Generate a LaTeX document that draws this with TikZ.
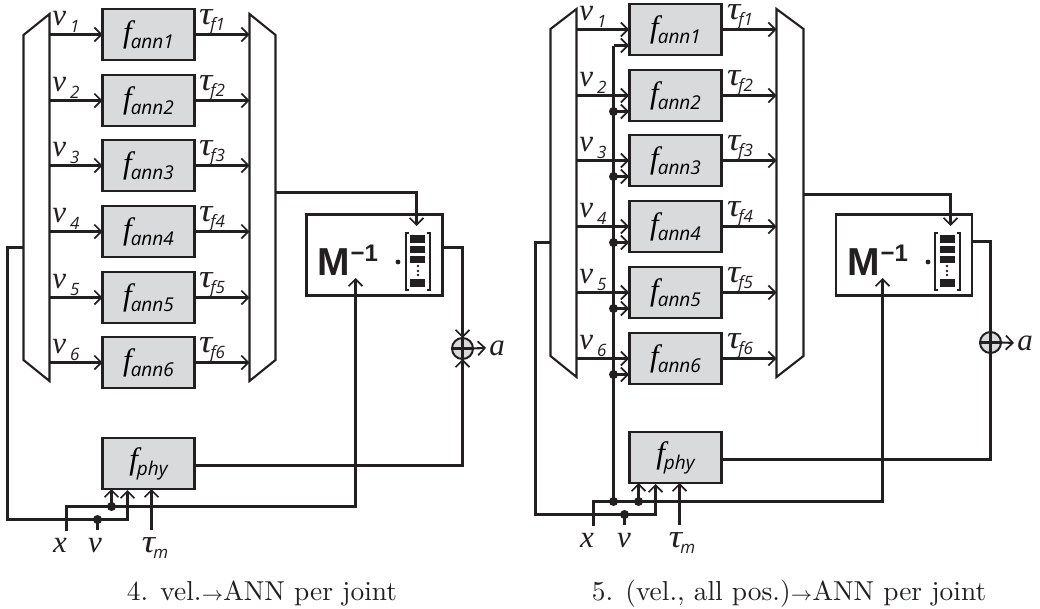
\documentclass[tikz,border=0pt]{standalone}
\usepackage{fontspec}
\usetikzlibrary{positioning}
\usetikzlibrary{arrows.meta}
\newfontfamily\subfont{Open Sans}
\newfontfamily\boldfont{Liberation Sans}
\newfontfamily\symfont{Liberation Serif}
\definecolor{ink}{HTML}{231F20}
\definecolor{boxgray}{HTML}{D9DADB}
\newcommand{\sym}[1]{{\symfont\itshape #1}}
\newcommand{\subtxt}[1]{\raisebox{-7pt}{\kern1pt\subfont\itshape\fontsize{17}{17}\selectfont #1}}
\newcommand{\annsub}[1]{\sym{f}\kern-1pt\raisebox{-6pt}{\subfont\itshape\fontsize{19}{19}\selectfont #1}}
\newcommand{\tausub}[1]{\scalebox{1.2}[1.05]{\sym{τ}}\kern-2pt\raisebox{-6pt}{\subfont\itshape\fontsize{17}{17}\selectfont #1}}
\newcommand{\minv}{{\boldfont\bfseries\fontsize{39}{39}\selectfont M\raisebox{14pt}{\fontsize{24}{24}\selectfont\kern1pt\char"2212 1}}}
\tikzset{
	annbox/.style = {draw=ink, fill=boxgray, line width=2.6pt, minimum width=92pt, minimum height=51pt, inner sep=0pt, outer sep=0pt, font=\fontsize{31}{32}\selectfont},
	massbox/.style = {draw=ink, line width=2.6pt, minimum width=136pt, minimum height=81pt, outer sep=0pt},
	muxshape/.style = {draw=ink, line width=2.1pt, fill=white},
	wire/.style = {draw=ink, line width=2.1pt},
	sig/.style = {wire, -{Straight Barb[length=7pt,width=14pt,line width=1.7pt]}},
	jdot/.style = {circle, fill=ink, inner sep=0pt, minimum size=9pt},
	sumnode/.style = {circle, draw=ink, fill=boxgray, line width=2pt, minimum size=21pt, inner sep=0pt, outer sep=0pt},
	lbl/.style = {anchor=base, inner sep=0pt, text=ink, font=\fontsize{31}{32}\selectfont},
	captxt/.style = {anchor=base, inner sep=0pt, text=ink, scale=2.74, transform shape, font=\fontsize{10}{12}\selectfont}
}
\begin{document}
\begin{tikzpicture}[x=1pt, y=-1pt]
	\useasboundingbox (0,0) rectangle (1040,608);
	% left panel
	\draw [muxshape] (49.5,14) -- (23.5,35) -- (23.5,360) -- (49.5,381) -- cycle;
	\draw [muxshape] (249.5,14) -- (275.5,35) -- (275.5,360) -- (249.5,381) -- cycle;
	\foreach \i/\y in {1/34.5, 2/100.5, 3/165.5, 4/231.5, 5/297.5, 6/362.5} {
		\node (lann\i) [annbox] at (148.5,\y) {\annsub{ann\i}};
		\coordinate (lin\i) at (49.5,\y);
		\coordinate (lout\i) at (249.5,\y);
		\node (lv\i) [lbl] at (66,\y-9.5) {\sym{v}\subtxt{\kern3pt\i}};
		\node (lt\i) [lbl] at (212,\y-10) {\tausub{f\i}};
		\draw [sig] (lin\i) -- (lann\i);
		\draw [sig] (lann\i) -- (lout\i);
	}
	\node (lphy) [annbox] at (148.5,463.5) {\annsub{phy}};
	\node (lmass) [massbox] at (374.5,255) {};
	\node (lminv) [anchor=base west, inner sep=0pt, text=ink] at (317,275) {\minv};
	\node (lsum) [sumnode] at (462.5,348.5) {};
	\draw [wire] (lsum.north) -- (lsum.south) (lsum.west) -- (lsum.east);
	\node (la) [lbl] at (497,355) {\sym{a}};
	\draw [sig] (lsum.east) -- ([xshift=-3pt]la.west);
	\coordinate (lmuxout) at (275.5,192.5);
	\coordinate (lmassin) at (416.5,226);
	\draw [sig] (lmuxout) -| (lmassin);
	\coordinate (lmassout) at (443,247.5);
	\draw [sig] (lmassout) -| (lsum.north);
	\draw [sig] ([yshift=-2pt]lphy.east) -| (lsum.south);
	\node (lx) [lbl] at (60,552) {\sym{x}};
	\node (lvel) [lbl] at (95,552) {\sym{v}};
	\node (ltm) [lbl] at (155,552) {\tausub{m}};
	\node (ldx) [jdot] at (111.5,506.5) {};
	\node (ldv) [jdot] at (97.5,519.5) {};
	\coordinate (lxs) at (66.5,531);
	\coordinate (lminvin) at (355.5,278);
	\draw [sig] (lxs) |- (ldx.center) -| (lminvin);
	\draw [sig] (ldx.center) -- (ldx.center |- lphy.south);
	\draw [wire] (97.5,530) -- (ldv.center);
	\coordinate (lvmux) at (23.5,247.5);
	\coordinate (lvin) at (127.5,490);
	\draw [sig] (lvmux) -- (7.5,247.5) |- (ldv.center) -| (lvin);
	\coordinate (ltms) at (151.5,530);
	\draw [sig] (ltms) -- (ltms |- lphy.south);
	\node (lcap) [captxt] at (262,600) {4. vel.$\scriptstyle\rightarrow$ANN per joint};
	% mass vector of left panel
	\draw [ink, line width=1.8pt] (409,233) -- (406,233) -- (406,290) -- (409,290);
	\draw [ink, line width=1.8pt] (427,233) -- (430,233) -- (430,290) -- (427,290);
	\foreach \a/\b in {235/243, 246/253, 256/263, 279/287}
		\fill [ink] (410,\a) rectangle (425,\b);
	\foreach \a in {266,271,275}
		\fill [ink] (418,\a) circle (1.3pt);
	\fill [ink] (398,262) circle (2.4pt);
	% right panel
	\draw [muxshape] (576.5,9) -- (550.5,29) -- (550.5,356) -- (576.5,377) -- cycle;
	\draw [muxshape] (776.5,9) -- (803.5,29) -- (803.5,356) -- (776.5,377) -- cycle;
	\node (rdx) [jdot] at (613.5,501.5) {};
	\foreach \i/\y in {1/29.5, 2/95.5, 3/160.5, 4/226.5, 5/292.5, 6/358.5} {
		\node (rann\i) [annbox] at (675.5,\y) {\annsub{ann\i}};
		\coordinate (rin\i) at (576.5,\y);
		\coordinate (rout\i) at (776.5,\y);
		\coordinate (rpos\i) at (629,\y+16);
		\node (rv\i) [lbl] at (593,\y-9.5) {\sym{v}\subtxt{\kern3pt\i}};
		\node (rt\i) [lbl] at (740,\y-10) {\tausub{f\i}};
		\draw [sig] (rin\i) -- ([yshift=16pt]rpos\i);
		\draw [sig] (rann\i) -- (rout\i);
		\draw [sig] (rdx.center |- rpos\i) -- (rpos\i);
	}
	\foreach \i in {2,...,6}
		\node [jdot] at (rdx.center |- rpos\i) {};
	\draw [wire] (rdx.center) -- (rdx.center |- rpos1);
	\node (rphy) [annbox] at (675.5,457.5) {\annsub{phy}};
	\node (rmass) [massbox] at (904,255) {};
	\node (rminv) [anchor=base west, inner sep=0pt, text=ink] at (847,275) {\minv};
	\node (rsum) [sumnode] at (990.5,342.5) {};
	\draw [wire] (rsum.north) -- (rsum.south) (rsum.west) -- (rsum.east);
	\node (ra) [lbl] at (1025,350) {\sym{a}};
	\draw [sig] (rsum.east) -- ([xshift=-3pt]ra.west);
	\coordinate (rmuxout) at (803.5,194.5);
	\coordinate (rmassin) at (950.5,226);
	\draw [sig] (rmuxout) -| (rmassin);
	\coordinate (rmassout) at (972,241.5);
	\draw [wire] (rmassout) -| (rsum.north);
	\draw [wire] ([yshift=-2pt]rphy.east) -| (rsum.south);
	\node (rx) [lbl] at (587,547) {\sym{x}};
	\node (rvel) [lbl] at (624,547) {\sym{v}};
	\node (rtm) [lbl] at (682,547) {\tausub{m}};
	\node (rdy) [jdot] at (638.5,501.5) {};
	\node (rdv) [jdot] at (624.5,514.5) {};
	\coordinate (rxs) at (593.5,526);
	\coordinate (rminvin) at (882.5,278);
	\draw [sig] (rxs) |- (rdy.center) -| (rminvin);
	\draw [sig] (rdy.center) -- (rdy.center |- rphy.south);
	\draw [wire] (624.5,525) -- (rdv.center);
	\coordinate (rvmux) at (550.5,242.5);
	\coordinate (rvin) at (655.5,484);
	\draw [sig] (rvmux) -- (535.5,242.5) |- (rdv.center) -| (rvin);
	\coordinate (rtms) at (679.5,525);
	\draw [sig] (rtms) -- (rtms |- rphy.south);
	\node (rcap) [captxt] at (789,600) {5. (vel., all pos.)$\scriptstyle\rightarrow$ANN per joint};
	% mass vector of right panel
	\draw [ink, line width=1.8pt] (938,233) -- (935,233) -- (935,290) -- (938,290);
	\draw [ink, line width=1.8pt] (957,233) -- (960,233) -- (960,290) -- (957,290);
	\foreach \a/\b in {235/243, 246/253, 256/263, 279/287}
		\fill [ink] (940,\a) rectangle (955,\b);
	\foreach \a in {266,271,275}
		\fill [ink] (947,\a) circle (1.3pt);
	\fill [ink] (928,262) circle (2.4pt);
\end{tikzpicture}
\end{document}
